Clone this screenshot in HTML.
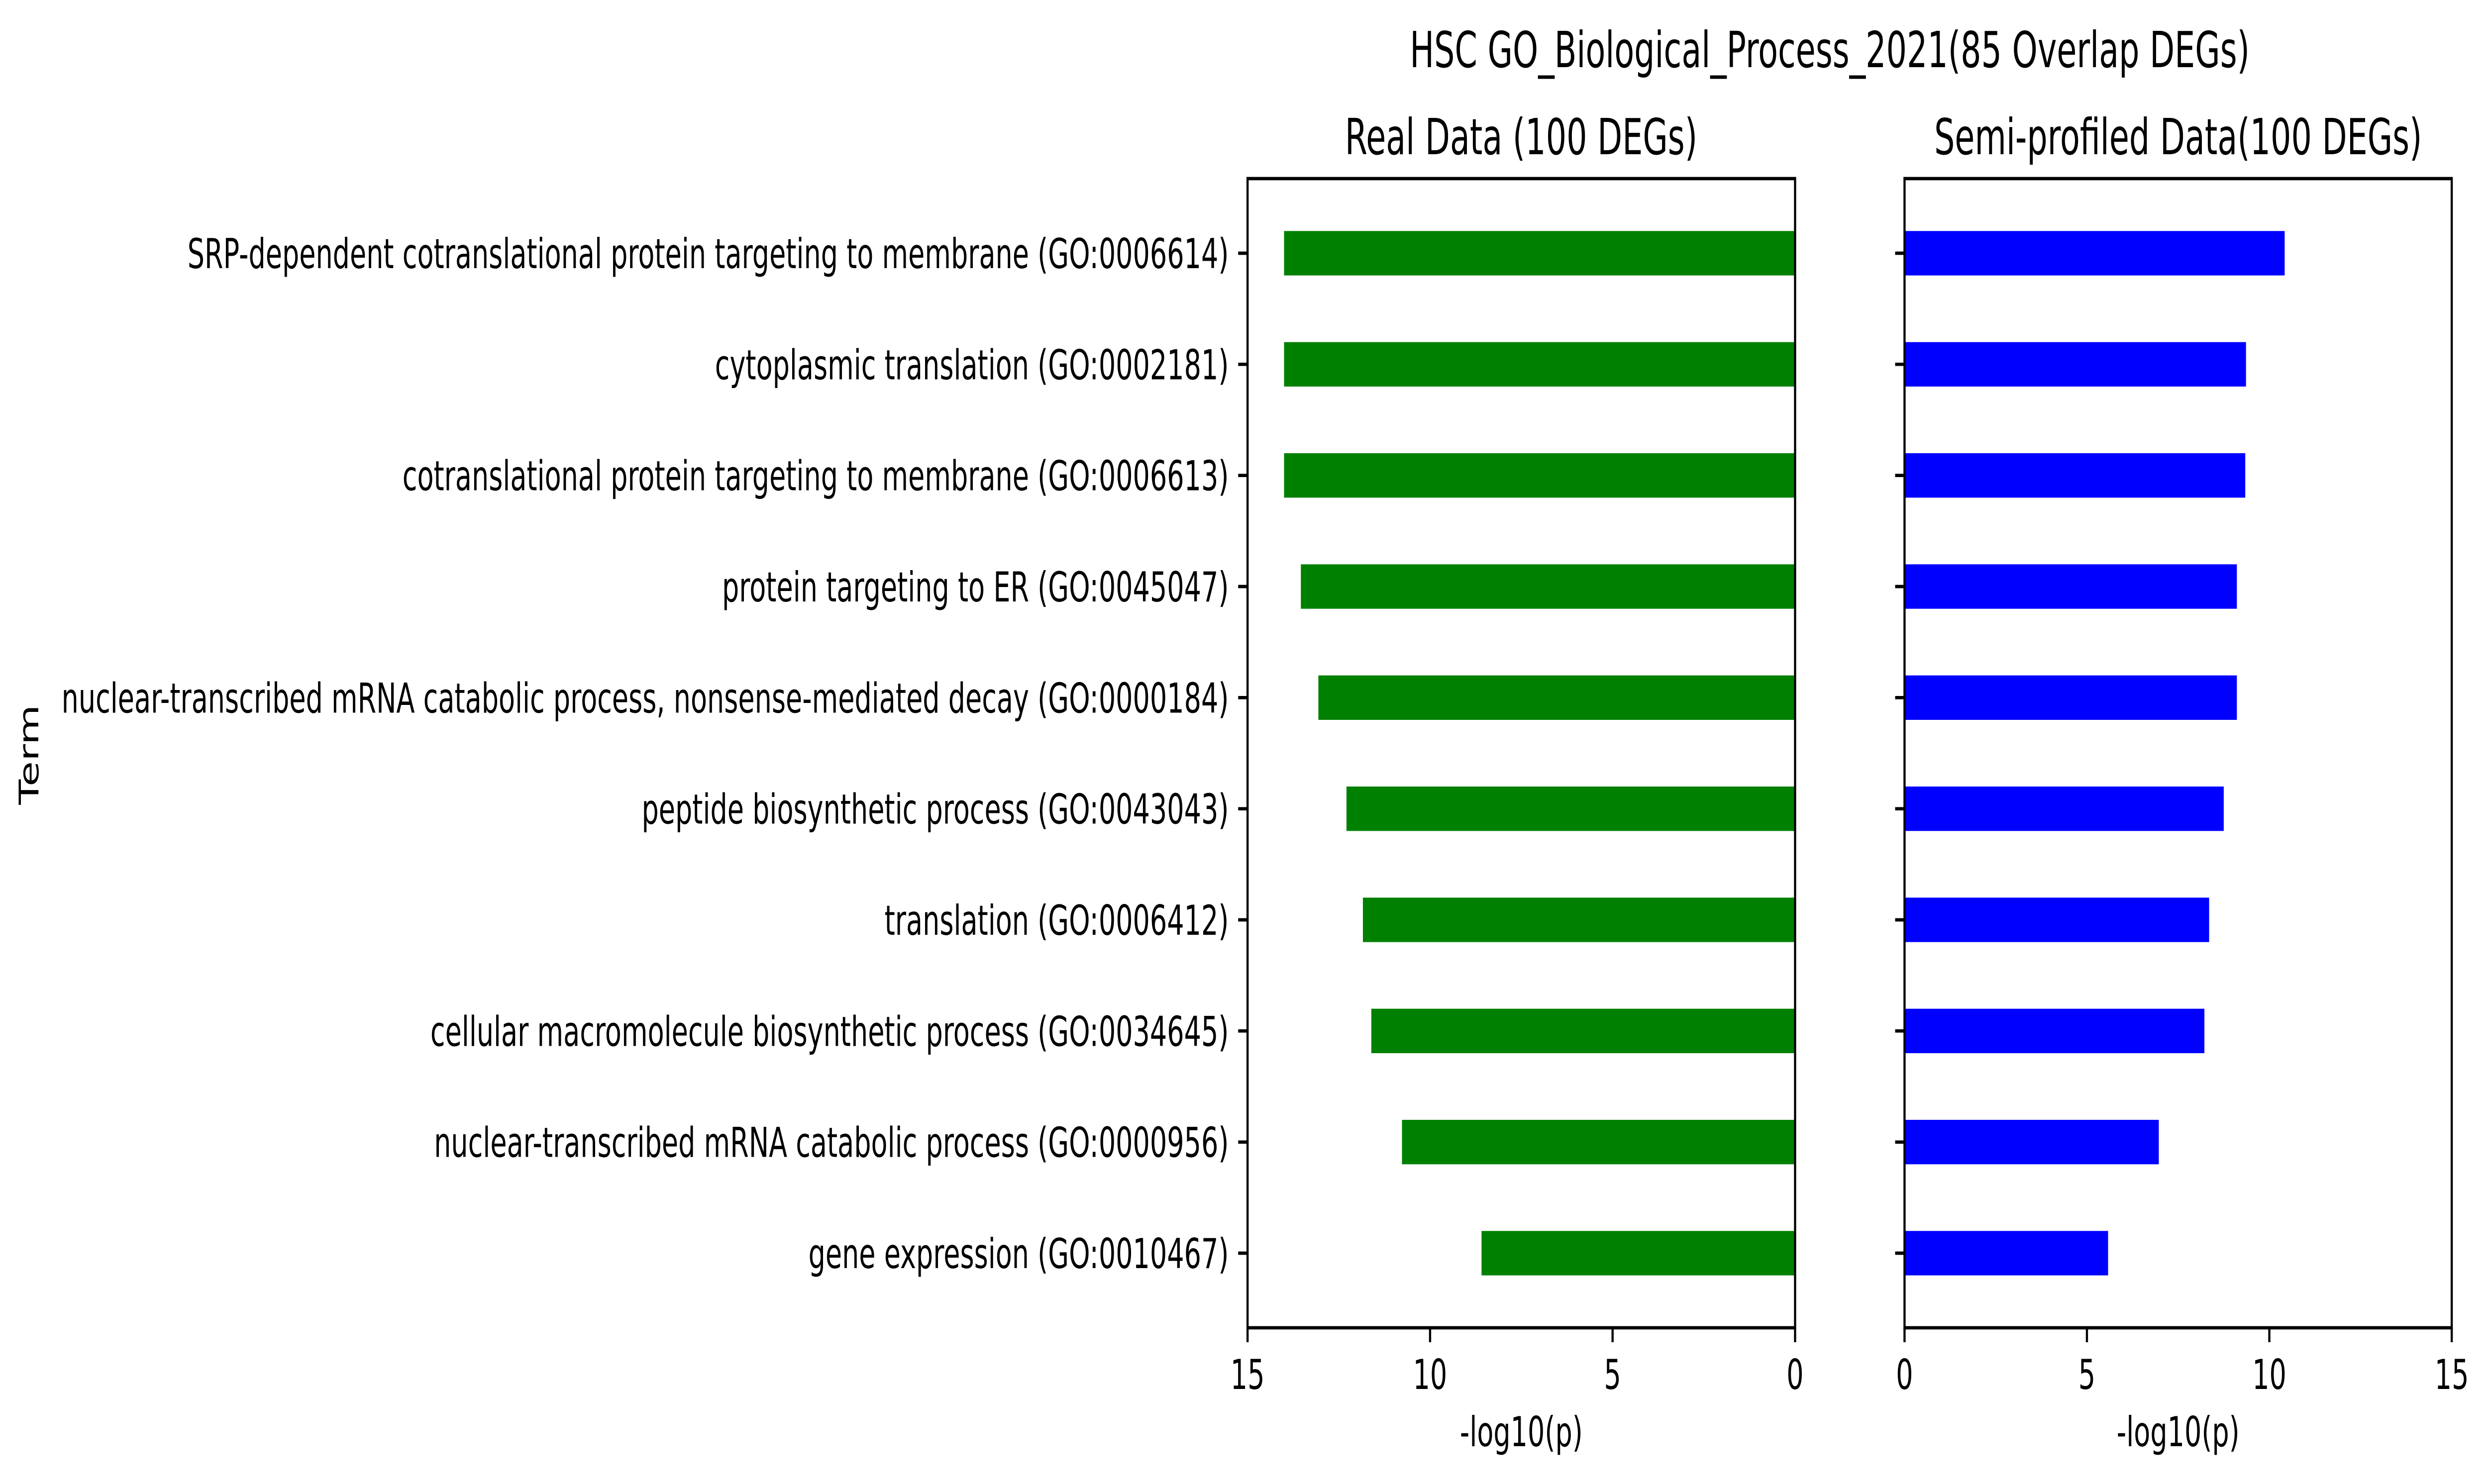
<!DOCTYPE html>
<html><head><meta charset="utf-8"><style>
html,body{margin:0;padding:0;background:#fff;width:100%;height:100%;overflow:hidden;}
svg{display:block;font-family:"DejaVu Sans","Liberation Sans",sans-serif;width:100vw;height:100vh;}
</style></head><body>
<svg id="chart" viewBox="0 0 7684 2983" preserveAspectRatio="none" xmlns="http://www.w3.org/2000/svg">
<rect width="7684" height="2983" fill="#fff"/>
<text x="5651" y="135" font-size="100" text-anchor="middle">HSC GO_Biological_Process_2021(85 Overlap DEGs)</text>
<text x="4698" y="310" font-size="100" text-anchor="middle">Real Data (100 DEGs)</text>
<text x="6727" y="310" font-size="100" text-anchor="middle">Semi-profiled Data(100 DEGs)</text>
<text transform="translate(118,1517) rotate(-90)" font-size="83" text-anchor="middle">Term</text>
<g id="left"></g>
<g id="right"></g>
</svg>
<script>
const terms = [
"SRP-dependent cotranslational protein targeting to membrane (GO:0006614)",
"cytoplasmic translation (GO:0002181)",
"cotranslational protein targeting to membrane (GO:0006613)",
"protein targeting to ER (GO:0045047)",
"nuclear-transcribed mRNA catabolic process, nonsense-mediated decay (GO:0000184)",
"peptide biosynthetic process (GO:0043043)",
"translation (GO:0006412)",
"cellular macromolecule biosynthetic process (GO:0034645)",
"nuclear-transcribed mRNA catabolic process (GO:0000956)",
"gene expression (GO:0010467)"
];
const realValues = [14.0, 14.0, 14.0, 13.54, 13.06, 12.29, 11.84, 11.61, 10.77, 8.59];
const semiValues = [10.42, 9.36, 9.34, 9.11, 9.11, 8.75, 8.35, 8.22, 6.97, 5.58];
const xTicks = [0, 5, 10, 15];

const NS = "http://www.w3.org/2000/svg";
const TOP = 359, BOT = 2669;
const L0 = 3853, L1 = 5544, R0 = 5882, R1 = 7572;
const XMAX = 15;
const yc = i => 509 + i * ((2519 - 509) / 9);
const barH = 0.4 * ((2519 - 509) / 9);
const xL = v => L1 - v * (L1 - L0) / XMAX;
const xR = v => R0 + v * (R1 - R0) / XMAX;

function mk(tag, attrs, parent, text) {
  const e = document.createElementNS(NS, tag);
  for (const k in attrs) e.setAttribute(k, attrs[k]);
  if (text !== undefined) e.textContent = text;
  parent.appendChild(e);
  return e;
}
const gl = document.getElementById('left');
const gr = document.getElementById('right');

realValues.forEach((v, i) => {
  const r = mk('rect', {x: xL(v), y: yc(i) - barH / 2, width: xL(0) - xL(v), height: barH, fill: '#008000'}, gl);
  
  
});
semiValues.forEach((v, i) => {
  const r = mk('rect', {x: xR(0), y: yc(i) - barH / 2, width: xR(v) - xR(0), height: barH, fill: '#0000ff'}, gr);
  
  
});

terms.forEach((t, i) => {
  const y = yc(i);
  const a = mk('line', {x1: L0 - 29, x2: L0, y1: y, y2: y, stroke: '#000', 'stroke-width': 6.7}, gl);
  
  
  const b = mk('line', {x1: R0 - 29, x2: R0, y1: y, y2: y, stroke: '#000', 'stroke-width': 6.7}, gr);
  
  
  const tx = mk('text', {x: L0 - 58, y: y + 30, 'font-size': 83, 'text-anchor': 'end'}, gl, t);
  
  
});

xTicks.forEach(v => {
  [[gl, xL(v)], [gr, xR(v)]].forEach(([g, x]) => {
    const l = mk('line', {x1: x, x2: x, y1: BOT, y2: BOT + 29, stroke: '#000', 'stroke-width': 6.7}, g);
    
    
    const t = mk('text', {x: x, y: 2792, 'font-size': 83, 'text-anchor': 'middle'}, g, String(v));
    
    
  });
});

[[gl, (L0 + L1) / 2], [gr, (R0 + R1) / 2]].forEach(([g, x]) => {
  const t = mk('text', {x: x, y: 2907, 'font-size': 83, 'text-anchor': 'middle'}, g, '-log10(p)');
  
  
});

[[gl, L0, L1], [gr, R0, R1]].forEach(([g, a, b]) => {
  const f = mk('rect', {x: a, y: TOP, width: b - a, height: BOT - TOP, fill: 'none', stroke: '#000', 'stroke-width': 6.7}, g);
  
  
});
</script>
</body></html>
